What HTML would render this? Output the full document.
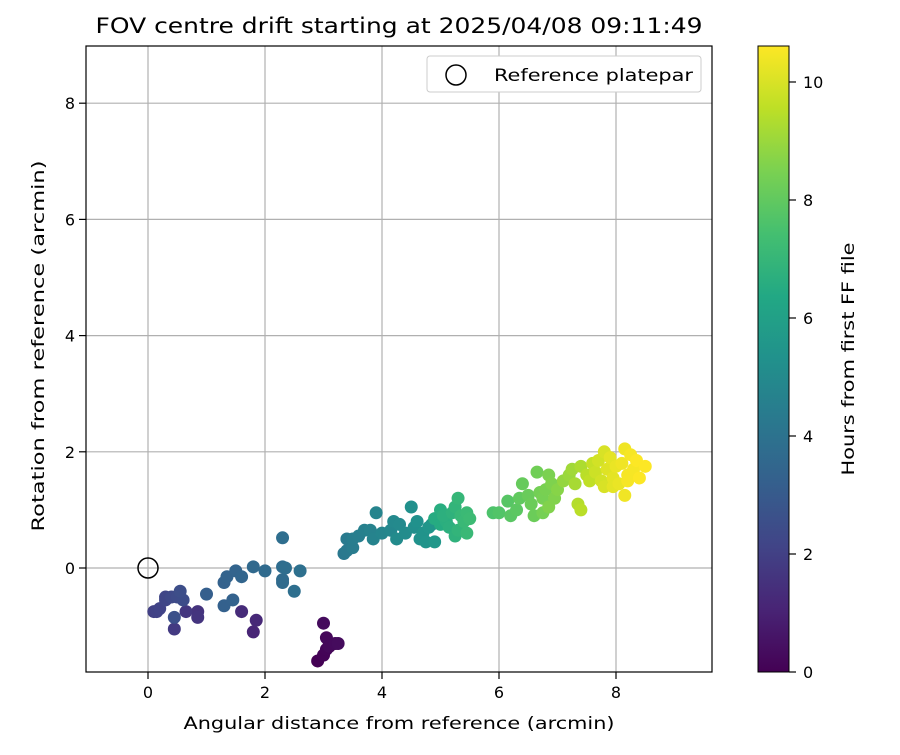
<!DOCTYPE html>
<html><head><meta charset="utf-8"><style>
body{margin:0;background:#fff;}
svg text{font-family:"DejaVu Sans","Liberation Sans",sans-serif;fill:#000;}
</style></head><body>
<svg id="chart" width="900" height="750" viewBox="0 0 900 750" xmlns="http://www.w3.org/2000/svg">
<defs>
<linearGradient id="vir" x1="0" y1="1" x2="0" y2="0">
<stop offset="0" stop-color="#440154"/><stop offset="0.1" stop-color="#482475"/><stop offset="0.2" stop-color="#414487"/><stop offset="0.3" stop-color="#355f8d"/><stop offset="0.4" stop-color="#2a788e"/><stop offset="0.5" stop-color="#21918c"/><stop offset="0.6" stop-color="#22a884"/><stop offset="0.7" stop-color="#44bf70"/><stop offset="0.8" stop-color="#7ad151"/><stop offset="0.9" stop-color="#bddf26"/><stop offset="1" stop-color="#fde725"/>
</linearGradient>
<clipPath id="plotclip"><rect x="86" y="46" width="626" height="626"/></clipPath>
</defs>
<text x="399" y="33" font-size="21" text-anchor="middle" textLength="607" lengthAdjust="spacingAndGlyphs">FOV centre drift starting at 2025/04/08 09:11:49</text>
<g id="grid"></g>
<g id="points" clip-path="url(#plotclip)"></g>
<rect x="86" y="46" width="626" height="626" fill="none" stroke="#000" stroke-width="1.2"/>
<g id="ticks"></g>
<text x="399" y="729" font-size="17" text-anchor="middle" textLength="431" lengthAdjust="spacingAndGlyphs">Angular distance from reference (arcmin)</text>
<text transform="translate(44,346) rotate(-90)" font-size="17" text-anchor="middle" textLength="371" lengthAdjust="spacingAndGlyphs">Rotation from reference (arcmin)</text>
<g>
<rect x="427" y="56" width="274" height="36" rx="3" fill="#fff" stroke="#ccc"/>
<circle cx="456" cy="75" r="10" fill="none" stroke="#000" stroke-width="1.5"/>
<text x="494" y="81" font-size="17" textLength="199" lengthAdjust="spacingAndGlyphs">Reference platepar</text>
</g>
<rect x="758" y="46" width="31" height="626" fill="url(#vir)" stroke="#000" stroke-width="1"/>
<g id="cticks"></g>
<text transform="translate(854,359) rotate(-90)" font-size="17" text-anchor="middle" textLength="233" lengthAdjust="spacingAndGlyphs">Hours from first FF file</text>
</svg>
<script>
const xs=[3.0,3.05,3.1,3.05,3.2,3.0,2.9,3.1,3.25,
1.85,1.8,1.6,0.85,0.85,0.65,0.45,
0.1,0.2,0.3,0.4,0.5,0.55,0.6,0.45,0.15,0.3,
1.0,1.3,1.35,1.5,1.6,1.45,1.3,1.8,2.0,2.3,2.35,2.3,2.3,2.5,2.6,2.3,
3.4,3.35,3.4,3.5,3.5,3.6,3.7,3.8,3.85,3.9,4.0,4.15,4.2,4.3,4.25,4.4,4.55,4.5,4.6,4.65,4.7,4.8,4.75,4.9,4.85,
4.9,5.0,5.05,5.1,5.2,5.25,5.3,5.35,5.4,5.45,5.5,5.3,5.25,5.45,5.0,5.15,
5.9,6.0,6.15,6.2,6.3,6.35,6.4,6.5,6.55,6.6,6.65,6.7,6.75,6.8,6.75,6.85,6.9,6.95,7.0,6.85,
7.1,7.2,7.25,7.3,7.35,7.4,7.4,7.5,7.55,7.6,7.65,7.7,7.8,7.75,7.8,7.85,7.9,7.95,8.0,8.05,8.1,8.15,8.2,8.25,8.3,8.35,8.4,8.5,8.15,8.2,7.95];
const ys=[-0.95,-1.2,-1.3,-1.4,-1.3,-1.5,-1.6,-1.35,-1.3,
-0.9,-1.1,-0.75,-0.85,-0.75,-0.75,-1.05,
-0.75,-0.7,-0.55,-0.5,-0.5,-0.4,-0.55,-0.85,-0.75,-0.5,
-0.45,-0.25,-0.15,-0.05,-0.15,-0.55,-0.65,0.02,-0.05,0.02,0.0,-0.2,-0.25,-0.4,-0.05,0.52,
0.3,0.25,0.5,0.35,0.5,0.55,0.65,0.65,0.5,0.95,0.6,0.65,0.8,0.75,0.5,0.6,0.7,1.05,0.8,0.5,0.6,0.7,0.45,0.45,0.75,
0.85,1.0,0.9,0.8,0.95,1.05,1.2,0.9,0.8,0.95,0.85,0.65,0.55,0.6,0.75,0.7,
0.95,0.95,1.15,0.9,1.0,1.2,1.45,1.25,1.1,0.9,1.65,1.3,1.2,1.35,0.95,1.6,1.45,1.2,1.35,1.05,
1.5,1.6,1.7,1.45,1.1,1.0,1.75,1.6,1.5,1.8,1.65,1.85,2.0,1.5,1.4,1.7,1.9,1.55,1.75,1.45,1.8,2.05,1.6,1.95,1.7,1.85,1.55,1.75,1.25,1.5,1.4];
const ts=[0.3,0.2,0.15,0.1,0.25,0.05,0.0,0.2,0.3,
1.2,1.1,1.3,1.6,1.55,1.7,1.8,
2.0,2.1,2.2,2.3,2.4,2.5,2.45,2.6,2.05,2.2,
3.2,3.3,3.35,3.4,3.45,3.3,3.25,3.6,3.65,3.75,3.8,3.7,3.7,3.85,3.9,3.8,
4.3,4.25,4.35,4.4,4.45,4.5,4.6,4.65,4.7,4.75,4.8,4.9,4.95,5.0,5.05,5.1,5.2,5.25,5.3,5.35,5.4,5.5,5.45,5.6,5.55,
6.5,6.6,6.7,6.65,6.8,6.9,7.0,7.05,7.1,7.15,7.2,6.9,6.8,7.1,6.5,6.7,
7.6,7.7,7.8,7.85,7.9,8.0,8.1,8.15,8.2,8.2,8.3,8.35,8.4,8.45,8.4,8.5,8.55,8.6,8.7,8.6,
8.9,9.0,9.1,9.2,9.4,9.5,9.3,9.5,9.6,9.7,9.8,9.9,10.0,9.9,10.0,10.1,10.2,10.2,10.3,10.3,10.4,10.4,10.5,10.5,10.5,10.6,10.6,10.6,10.4,10.5,10.2];
const xTicks=[0,2,4,6,8];
const yTicks=[0,2,4,6,8];
const cTicks=[0,2,4,6,8,10];

const NS="http://www.w3.org/2000/svg";
const X=v=>148+(v-0)*58.5;
const Y=v=>568-v*58.1;
const TMAX=10.61;
const C=v=>672-v/TMAX*626;
const stops=["#440154","#482475","#414487","#355f8d","#2a788e","#21918c","#22a884","#44bf70","#7ad151","#bddf26","#fde725"];
function hex(h){return [1,3,5].map(i=>parseInt(h.substr(i,2),16));}
function vir(f){f=Math.max(0,Math.min(1,f));const p=f*10,i=Math.min(9,Math.floor(p)),r=p-i;const a=hex(stops[i]),b=hex(stops[i+1]);return "rgb("+a.map((c,k)=>Math.round(c+(b[k]-c)*r)).join(",")+")";}
function mk(tag,attrs,parent){const e=document.createElementNS(NS,tag);for(const k in attrs)e.setAttribute(k,attrs[k]);parent.appendChild(e);return e;}
const grid=document.getElementById('grid'),ticks=document.getElementById('ticks'),pts=document.getElementById('points'),ct=document.getElementById('cticks');
xTicks.forEach(v=>{
 const g=mk('line',{x1:X(v),x2:X(v),y1:46,y2:672,stroke:'#b0b0b0','stroke-width':1.2},grid);
 
 
 mk('line',{x1:X(v),x2:X(v),y1:672,y2:679,stroke:'#000','stroke-width':1.2},ticks);
 const t=mk('text',{x:X(v),y:698,'font-size':16,'text-anchor':'middle'},ticks);t.textContent=v;
 
 
});
yTicks.forEach(v=>{
 const g=mk('line',{x1:86,x2:712,y1:Y(v),y2:Y(v),stroke:'#b0b0b0','stroke-width':1.2},grid);
 
 
 mk('line',{x1:79,x2:86,y1:Y(v),y2:Y(v),stroke:'#000','stroke-width':1.2},ticks);
 const t=mk('text',{x:75,y:Y(v)+6,'font-size':16,'text-anchor':'end'},ticks);t.textContent=v;
 
 
});
cTicks.forEach(v=>{
 mk('line',{x1:789,x2:796,y1:C(v),y2:C(v),stroke:'#000','stroke-width':1.2},ct);
 const t=mk('text',{x:803,y:C(v)+6,'font-size':16},ct);t.textContent=v;
 
 
});
const order=ts.map((t,i)=>i).sort((a,b)=>ts[a]-ts[b]);
order.forEach(i=>{
 const c=mk('circle',{cx:X(xs[i]),cy:Y(ys[i]),r:6.5,fill:vir(ts[i]/TMAX)},pts);
 
 
});
const ref=mk('circle',{cx:X(0),cy:Y(0),r:10,fill:'none',stroke:'#000','stroke-width':1.5},pts);


</script>
</body></html>
